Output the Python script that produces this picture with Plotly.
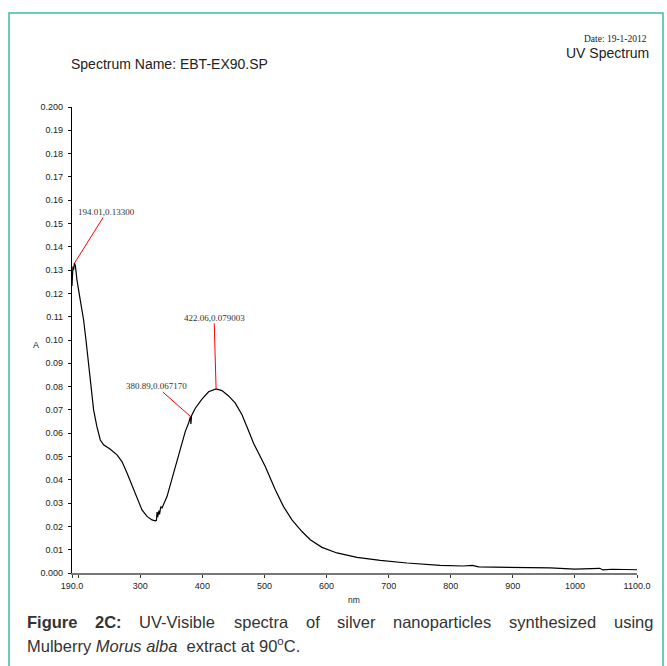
import plotly.graph_objects as go

# ---------------- data ----------------
wavelength = [190.0, 190.8, 191.5, 192.5, 194.01, 195.5, 198.0, 203.4, 208.7, 212.5,
              216.8, 221.0, 224.8, 230.0, 235.6, 240.9, 251.7, 262.5, 270.5, 278.6,
              286.6, 294.7, 302.7, 310.8, 318.8, 324.0, 326.0, 327.0, 328.0, 330.0,
              331.0, 333.0, 335.0, 343.0, 348.3, 356.3, 364.4, 372.4, 378.0, 380.89,
              381.5, 382.5, 388.6, 399.3, 410.0, 422.06, 431.5, 442.2, 453.0, 463.8,
              477.0, 482.4, 501.3, 517.4, 530.7, 544.3, 560.4, 573.7, 592.6, 616.7,
              649.0, 686.5, 729.5, 783.0, 820.0, 835.0, 845.0, 870.0, 900.0, 920.0,
              960.0, 1000.0, 1040.0, 1045.0, 1060.0, 1100.0]
absorbance = [0.1232, 0.1290, 0.1315, 0.1300, 0.1330, 0.1318, 0.1257, 0.1170, 0.1086, 0.1000,
              0.0886, 0.0786, 0.0700, 0.0629, 0.0571, 0.0550, 0.0531, 0.0507, 0.0478, 0.0429,
              0.0378, 0.0321, 0.0271, 0.0243, 0.0228, 0.0224, 0.0226, 0.0262, 0.0240, 0.0268,
              0.0252, 0.0285, 0.0279, 0.0328, 0.0378, 0.0450, 0.0528, 0.0607, 0.0645, 0.06717,
              0.0640, 0.0675, 0.0707, 0.0746, 0.0778, 0.079003, 0.0783, 0.0760, 0.0729, 0.0679,
              0.0593, 0.0557, 0.0457, 0.0357, 0.0285, 0.0228, 0.0178, 0.0143, 0.0110, 0.0086,
              0.0067, 0.0054, 0.0043, 0.0033, 0.0030, 0.0033, 0.0026, 0.0025, 0.0023, 0.0021,
              0.0022, 0.0017, 0.0020, 0.0013, 0.0016, 0.0014]

peak_wl = [194.01, 380.89, 422.06]
peak_abs = [0.13300, 0.067170, 0.079003]
peak_labels = ["194.01,0.13300", "380.89,0.067170", "422.06,0.079003"]

x_tickvals = [190, 300, 400, 500, 600, 700, 800, 900, 1000, 1100]
x_ticktext = ["190.0", "300", "400", "500", "600", "700", "800", "900", "1000", "1100.0"]
x_minor_ticks = [200]
y_tickvals = [i / 100 for i in range(21)]
y_ticktext = ["0.000"] + ["%.2f" % (i / 100) for i in range(1, 20)] + ["0.200"]

# ---------------- layout helpers ----------------
W, H = 667, 666
L, R, T, B = 72, 637, 107, 573


def px(x):
    return (x - L) / (R - L)


def py(y):
    return (B - y) / (B - T)


fig = go.Figure()
fig.add_trace(go.Scatter(x=wavelength, y=absorbance, mode="lines",
                         line=dict(color="black", width=1.2), hoverinfo="skip",
                         showlegend=False))

axis_font = dict(family="Liberation Sans, Arial, sans-serif", size=9, color="#222")

fig.update_layout(
    width=W, height=H,
    margin=dict(l=L, r=W - R, t=T, b=H - B, pad=0),
    paper_bgcolor="white", plot_bgcolor="white",
    showlegend=False,
    xaxis=dict(range=[190, 1100], tickvals=x_tickvals, ticktext=x_ticktext,
               ticks="outside", ticklen=3, tickcolor="#333", showline=True,
               linecolor="#777", linewidth=1.5, showgrid=False, zeroline=False,
               tickfont=axis_font, fixedrange=True,
               minor=dict(tickvals=x_minor_ticks, ticks="outside", ticklen=3,
                          tickcolor="#333", showgrid=False)),
    yaxis=dict(range=[0, 0.2], tickvals=y_tickvals, ticktext=y_ticktext,
               ticks="outside", ticklen=3, tickcolor="#111", showline=True,
               linecolor="black", linewidth=1.2, showgrid=False, zeroline=False,
               tickfont=axis_font, fixedrange=True, ticklabelstandoff=3),
)

offsets = [(32, -51), (-34, -30), (-2, -71)]
annos = []
for w, a, lab, (ax, ay) in zip(peak_wl, peak_abs, peak_labels, offsets):
    annos.append(dict(x=w, y=a, xref="x", yref="y", text=lab, showarrow=True,
                      arrowhead=0, arrowwidth=1, arrowcolor="red", ax=ax, ay=ay,
                      standoff=0, borderpad=0,
                      font=dict(family="Liberation Serif, Times New Roman, serif",
                                size=9, color="#333")))


def text_anno(x, y, text, size, family="Liberation Sans, Arial, sans-serif",
              xanchor="left", color="#222"):
    return dict(x=px(x), y=py(y), xref="paper", yref="paper", text=text,
                showarrow=False, xanchor=xanchor, yanchor="middle",
                font=dict(family=family, size=size, color=color))


annos.append(text_anno(649, 39, "Date: 19-1-2012", 9.5,
                       family="Liberation Serif, Times New Roman, serif",
                       xanchor="right"))
annos.append(text_anno(651, 53, "UV Spectrum", 14, xanchor="right"))
annos.append(text_anno(69, 64, "Spectrum Name: EBT-EX90.SP", 14))
annos.append(text_anno(31, 345, "A", 9))
annos.append(dict(x=px(354), y=py(600), xref="paper", yref="paper", text="nm",
                  showarrow=False, xanchor="center", yanchor="middle",
                  font=dict(family="Liberation Sans, Arial, sans-serif", size=8.5,
                            color="#222")))

# caption (justified first line)
reg = {' ': 278, '-': 333, ':': 278, '.': 278, 'U': 722, 'V': 667, 'a': 556,
       'b': 556, 'c': 500, 'd': 556, 'e': 556, 'f': 278, 'g': 556, 'h': 556,
       'i': 222, 'l': 222, 'n': 556, 'o': 556, 'p': 556, 'r': 333, 's': 500,
       't': 278, 'u': 556, 'v': 500, 'y': 500, 'z': 500, 'm': 833}
bold = {'F': 611, 'i': 278, 'g': 611, 'u': 611, 'r': 389, 'e': 556, '2': 556,
        'C': 722, ':': 333}
cap_size = 16.5
words = [("Figure", True), ("2C:", True), ("UV-Visible", False), ("spectra", False),
         ("of", False), ("silver", False), ("nanoparticles", False),
         ("synthesized", False), ("using", False)]
cap_left, cap_right, cap_y1, cap_y2 = 25, 651, 622, 645
widths = [sum((bold if b else reg).get(ch, 556) for ch in wd) / 1000 * cap_size
          for wd, b in words]
gap = (cap_right - cap_left - sum(widths)) / (len(words) - 1)
xpos = cap_left
cap_color = "#333"
for (wd, b), wdt in zip(words, widths):
    annos.append(text_anno(xpos, cap_y1, "<b>%s</b>" % wd if b else wd, cap_size,
                           color=cap_color))
    xpos += wdt + gap
annos.append(text_anno(cap_left, cap_y2,
                       "Mulberry <i>Morus alba</i>&nbsp; extract at 90<sup>o</sup>C.",
                       cap_size, color=cap_color))

fig.update_layout(annotations=annos)

# teal frame around the figure
fig.add_shape(type="rect", xref="paper", yref="paper",
              x0=px(9), x1=px(663), y0=py(690), y1=py(13),
              line=dict(color="#3dbaa2", width=1.5), fillcolor="rgba(0,0,0,0)",
              layer="below")

fig.write_html("out.html", config={"displayModeBar": False})
